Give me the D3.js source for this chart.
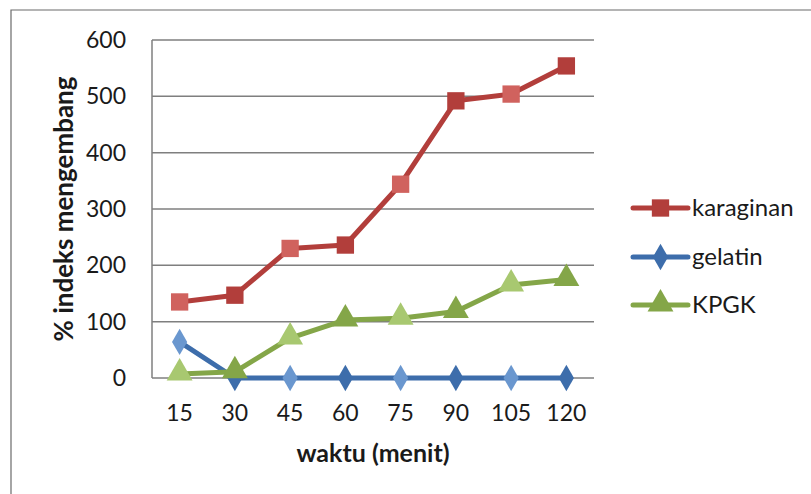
<!DOCTYPE html>
<html>
<head>
<meta charset="utf-8">
<script src="https://cdn.jsdelivr.net/npm/d3@7"></script>
<style>
  html, body { margin: 0; padding: 0; background: #fff; }
  svg { display: block; }
  text { font-family: Lato, "Open Sans", "Liberation Sans", sans-serif; fill: #1a1a1a; }
</style>
</head>
<body>
<svg id="chart" width="811" height="494"></svg>
<script>
// Swelling index (%) over time for three materials
const categories = ["15", "30", "45", "60", "75", "90", "105", "120"];
const karaginan = [135, 147, 230, 236, 344, 492, 504, 554];
const gelatin   = [64, 0, 0, 0, 0, 0, 0, 0];
const kpgk      = [7, 11, 71, 103, 106, 118, 165, 175];
const yTicks    = [0, 100, 200, 300, 400, 500, 600];

const seriesList = [
  { name: "karaginan", values: karaginan, color: "#b23e3b", light: "#d0625e", marker: "square" },
  { name: "gelatin",   values: gelatin,   color: "#3d6dab", light: "#6a97cf", marker: "diamond" },
  { name: "KPGK",      values: kpgk,      color: "#84a648", light: "#a8c870", marker: "triangle" }
];

const svg = d3.select("#chart");
const plot = { left: 152, right: 594, top: 40, bottom: 378 };

const x = d3.scaleBand().domain(categories).range([plot.left, plot.right]);
const y = d3.scaleLinear().domain([0, 600]).range([plot.bottom, plot.top]);

// outer frame (top and left edges visible)
svg.append("path")
  .attr("d", `M11,800 L11,10 L811,10`)
  .attr("fill", "none").attr("stroke", "#6b6b6b").attr("stroke-width", 1.2);

// horizontal gridlines
svg.append("g").selectAll("line").data(yTicks).join("line")
  .attr("x1", plot.left).attr("x2", plot.right)
  .attr("y1", d => y(d)).attr("y2", d => y(d))
  .attr("stroke", "#7f7f7f").attr("stroke-width", 1.5);

// vertical axis line
svg.append("line")
  .attr("x1", plot.left).attr("x2", plot.left)
  .attr("y1", plot.top).attr("y2", plot.bottom)
  .attr("stroke", "#7f7f7f").attr("stroke-width", 1.5);

// y tick labels
const yAxis = d3.axisLeft(y).tickValues(yTicks).tickSize(0).tickPadding(26);
const gy = svg.append("g").attr("transform", `translate(${plot.left},0)`).call(yAxis);
gy.select(".domain").remove();
gy.selectAll("text").attr("font-size", 23).attr("font-family", "Lato, sans-serif").attr("fill", "#1a1a1a");

// x tick labels
const xAxis = d3.axisBottom(x).tickSize(0).tickPadding(27);
const gx = svg.append("g").attr("transform", `translate(0,${plot.bottom})`).call(xAxis);
gx.select(".domain").remove();
gx.selectAll("text").attr("font-size", 23).attr("font-family", "Lato, sans-serif").attr("fill", "#1a1a1a");

// axis titles
svg.append("text")
  .attr("x", (plot.left + plot.right) / 2).attr("y", 462)
  .attr("text-anchor", "middle").attr("font-size", 25).attr("font-weight", "bold")
  .text("waktu (menit)");
svg.append("text")
  .attr("transform", `translate(73,${(plot.top + plot.bottom) / 2}) rotate(-90)`)
  .attr("text-anchor", "middle").attr("font-size", 26).attr("font-weight", "bold")
  .text("% indeks mengembang");

const symbolFor = m => m === "square" ? d3.symbolSquare : m === "diamond" ? d3.symbolDiamond : d3.symbolTriangle;
const sizeFor = m => m === "square" ? 300 : m === "diamond" ? 200 : 290;

const line = d3.line()
  .x((d, i) => x(categories[i]) + x.bandwidth() / 2)
  .y(d => y(d));

seriesList.forEach(s => {
  const g = svg.append("g");
  g.append("path").datum(s.values)
    .attr("d", line).attr("fill", "none")
    .attr("stroke", s.color).attr("stroke-width", 5)
    .attr("stroke-linejoin", "round");
  g.selectAll("path.m").data(s.values).join("path")
    .attr("class", "m")
    .attr("transform", (d, i) => `translate(${x(categories[i]) + x.bandwidth() / 2},${y(d) + (s.marker === "triangle" ? -1 : 0)})`)
    .attr("d", d3.symbol().type(symbolFor(s.marker)).size(sizeFor(s.marker)))
    .attr("fill", (d, i) => i % 2 === 0 ? s.light : s.color);
});

// legend
const legend = svg.append("g");
const legendY = [208, 257, 305];
seriesList.forEach((s, i) => {
  const g = legend.append("g").attr("transform", `translate(0,${legendY[i]})`);
  g.append("line").attr("x1", 633).attr("x2", 688).attr("y1", 0).attr("y2", 0)
    .attr("stroke", s.color).attr("stroke-width", 5).attr("stroke-linecap", "round");
  g.append("path").attr("transform", `translate(660.5,${s.marker === "triangle" ? -1 : 0})`)
    .attr("d", d3.symbol().type(symbolFor(s.marker)).size(sizeFor(s.marker)))
    .attr("fill", s.color);
  g.append("text").attr("x", 692).attr("y", 8).attr("font-size", 24).text(s.name);
});
</script>
</body>
</html>
